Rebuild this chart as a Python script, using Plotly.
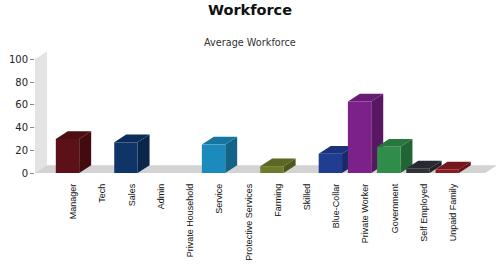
import plotly.graph_objects as go

categories = ["Manager", "Tech", "Sales", "Admin", "Private Household", "Service",
              "Protective Services", "Farming", "Skilled", "Blue-Collar",
              "Private Worker", "Government", "Self Employed", "Unpaid Family"]
values = [30, 0, 27, 0, 0, 25, 0, 6, 0, 17, 63, 23, 4, 3]
colors = ["#5c1017", "#777777", "#0f3568", "#777777", "#777777", "#1b8bbd", "#777777",
          "#6e7a2c", "#777777", "#203d92", "#7c2189", "#2f8d49", "#2f3338", "#8d1a22"]
y_ticks = [0, 20, 40, 60, 80, 100]

BAR_W = 0.8
DX = 0.41
DY = 6.8
X_MIN, X_MAX = -1.113, 14.74
Y_MAX = 108.2


def shade(hexc, f):
    h = hexc.lstrip("#")
    r, g, b = (int(h[i:i + 2], 16) for i in (0, 2, 4))
    return "rgb(%d,%d,%d)" % (r * f, g * f, b * f)


fig = go.Figure()
for i, (v, c) in enumerate(zip(values, colors)):
    if not v:
        continue
    l, r = i - BAR_W / 2, i + BAR_W / 2
    # side face
    fig.add_trace(go.Scatter(x=[r, r + DX, r + DX, r, r], y=[0, DY, v + DY, v, 0],
                             fill="toself", fillcolor=shade(c, 0.72), mode="lines",
                             line=dict(width=0), hoverinfo="skip", showlegend=False))
    # top face
    fig.add_trace(go.Scatter(x=[l, r, r + DX, l + DX, l], y=[v, v, v + DY, v + DY, v],
                             fill="toself", fillcolor=shade(c, 0.85), mode="lines",
                             line=dict(width=0), hoverinfo="skip", showlegend=False))
    # front face
    fig.add_trace(go.Scatter(x=[l, r, r, l, l], y=[0, 0, v, v, 0],
                             fill="toself", fillcolor=c, mode="lines",
                             line=dict(width=0), name=categories[i], showlegend=False))

x_floor_end = 14.3
shapes = [
    dict(type="path", xref="x", yref="y", layer="below", line=dict(width=0),
         fillcolor="#e3e3e3",
         path=f"M {X_MIN},0 L {X_MIN},100 L {X_MIN + DX},{100 + DY} L {X_MIN + DX},{DY} Z"),
    dict(type="path", xref="x", yref="y", layer="below", line=dict(width=0),
         fillcolor="#d3d3d3",
         path=f"M {X_MIN},0 L {x_floor_end},0 L {x_floor_end + DX},{DY} L {X_MIN + DX},{DY} Z"),
]

fig.update_layout(
    template="none",
    width=500, height=280,
    margin=dict(l=35, r=2, t=50, b=107, autoexpand=False),
    paper_bgcolor="white", plot_bgcolor="white",
    showlegend=False,
    shapes=shapes,
    title=dict(text="<b>Workforce</b>", x=0.5, xref="container", xanchor="center",
               y=1 - 9.5 / 280, yref="container", yanchor="middle",
               font=dict(family="DejaVu Sans", size=14.5, color="#111111")),
    annotations=[dict(text="Average Workforce", xref="paper", yref="paper",
                      x=(250 - 35) / 463, y=(173 - 42) / 123, xanchor="center",
                      yanchor="middle", showarrow=False,
                      font=dict(family="DejaVu Sans", size=9.7, color="#333333"))],
    xaxis=dict(range=[X_MIN, X_MAX], showgrid=False, zeroline=False, showline=False,
               tickmode="array", tickvals=[i + 0.2 for i in range(len(categories))],
               ticktext=categories, tickangle=-90, ticks="", automargin=False,
               ticklabelstandoff=8,
               tickfont=dict(family="Liberation Sans", size=9, color="#111111")),
    yaxis=dict(range=[0, Y_MAX], showgrid=False, zeroline=False, showline=False,
               tickmode="array", tickvals=y_ticks, ticks="outside", ticklen=4,
               tickcolor="#888888", automargin=False,
               tickfont=dict(family="DejaVu Sans", size=10, color="#222222")),
)

fig.write_html("out.html")
